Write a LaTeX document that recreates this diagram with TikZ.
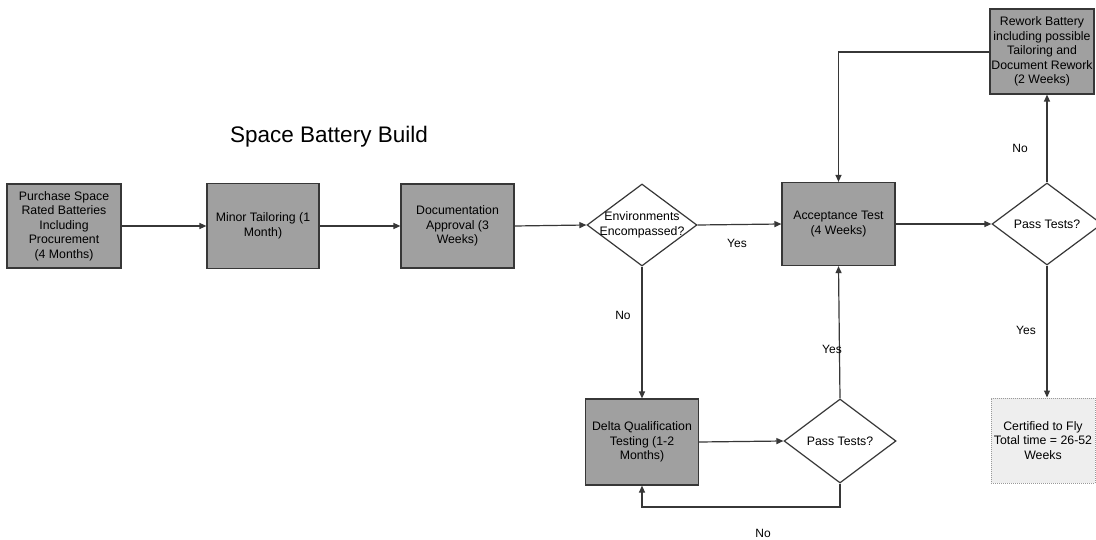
\documentclass[tikz,border=0pt]{standalone}
\usepackage{fontspec}
\setmainfont{Liberation Sans}
\usetikzlibrary{shapes.geometric,arrows.meta}
\definecolor{boxgray}{RGB}{160,160,160}
\definecolor{certgray}{RGB}{238,238,238}
\definecolor{linegray}{RGB}{55,55,55}
\tikzset{
  procbox/.style={draw=linegray,line width=1.2pt,fill=boxgray,inner sep=0pt,align=center,
    font=\fontsize{12.3}{14.5}\selectfont},
  certbox/.style={draw=gray!80,densely dotted,line width=1pt,fill=certgray,inner sep=0pt,align=center,
    font=\fontsize{12.3}{14.5}\selectfont},
  dia/.style={draw=linegray,line width=1.2pt,fill=white,shape=diamond,inner sep=0pt,
    minimum width=110pt,minimum height=82pt},
  dtext/.style={inner sep=0pt,align=center,font=\fontsize{12.3}{14.5}\selectfont},
  lbl/.style={inner sep=0pt,font=\fontsize{12}{14}\selectfont},
  conn/.style={draw=linegray,line width=1.2pt,-{Triangle[length=7pt,width=6pt]}},
}
\begin{document}
\begin{tikzpicture}[x=1pt,y=-1pt]
\useasboundingbox[fill=white] (0,0) rectangle (1096,540);

\node[inner sep=0pt,anchor=base west,font=\fontsize{22.5}{27}\selectfont] (title) at (230,143) {Space Battery Build};

\node[procbox,minimum width=114pt,minimum height=84pt] (b1) at (64,226)
  {Purchase Space\\Rated Batteries\\Including\\Procurement\\(4 Months)};
\node[procbox,minimum width=112pt,minimum height=85pt] (b2) at (263,226)
  {Minor Tailoring (1\\Month)};
\node[procbox,minimum width=113pt,minimum height=84pt] (b3) at (457.5,226)
  {Documentation\\Approval (3\\Weeks)};
\node[dia] (d1) at (642,225) {};
\node[dtext] (d1t) at (d1.center) {Environments\\Encompassed?};
\node[procbox,minimum width=113pt,minimum height=83pt] (acc) at (838.5,224)
  {Acceptance Test\\(4 Weeks)};
\node[dia] (d3) at (1047,224) {};
\node[dtext] (d3t) at (d3.center) {Pass Tests?};
\node[procbox,minimum width=104pt,minimum height=85pt] (rw) at (1042,51.5)
  {Rework Battery\\including possible\\Tailoring and\\Document Rework\\(2 Weeks)};
\node[certbox,minimum width=104pt,minimum height=85pt] (cert) at (1043,440.5)
  {Certified to Fly\\Total time = 26-52\\Weeks};
\node[procbox,minimum width=113pt,minimum height=86pt] (delta) at (642,442)
  {Delta Qualification\\Testing (1-2\\Months)};
\node[dia,minimum width=112pt,minimum height=84pt] (d2) at (840,441) {};
\node[dtext] (d2t) at (d2.center) {Pass Tests?};

\coordinate (loopR) at (840,507);
\coordinate (loopL) at (642,507);
\coordinate (rwL) at (838.5,52);

\draw[conn] (b1.east) -- (b2.west);
\draw[conn] (b2.east) -- (b3.west);
\draw[conn] (b3.east) -- (d1.west);
\draw[conn] (d1.east) -- (acc.west);
\draw[conn] (d1.south) -- (delta.north);
\draw[conn] (delta.east) -- (d2.west);
\draw[conn] (d2.north) -- (acc.south);
\draw[conn] (d2.south) -- (loopR) -- (loopL) -- (delta.south);
\draw[conn] (acc.east) -- (d3.west);
\draw[conn] (d3.north) -- (d3.north |- rw.south);
\draw[conn] (rw.west |- rwL) -- (rwL) -- (acc.north);
\draw[conn] (d3.south) -- (d3.south |- cert.north);

\node[lbl] (lyes1) at (737,243) {Yes};
\node[lbl] (lno1) at (623,315) {No};
\node[lbl] (lyes2) at (832,349) {Yes};
\node[lbl] (lno2) at (763,533) {No};
\node[lbl] (lno3) at (1020,148) {No};
\node[lbl] (lyes3) at (1026,330) {Yes};
\end{tikzpicture}
\end{document}
